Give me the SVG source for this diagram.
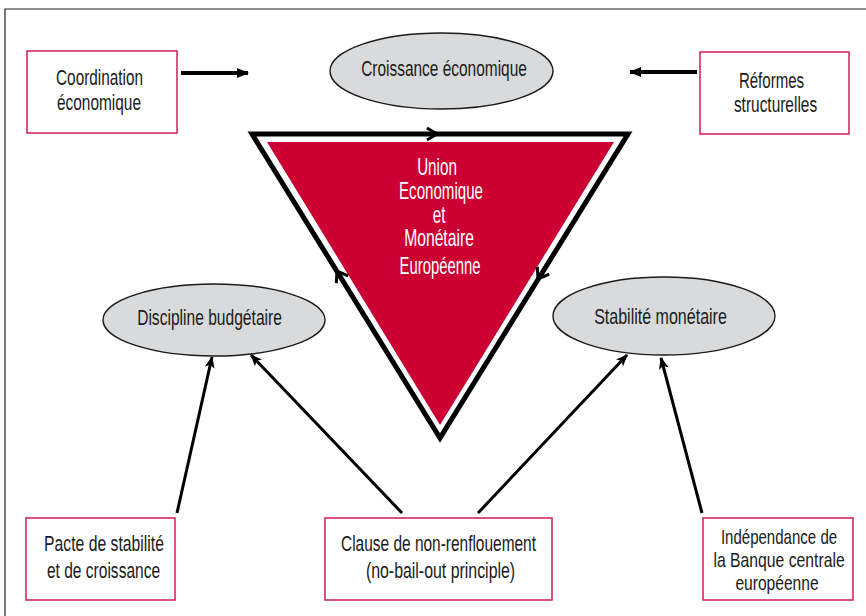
<svg xmlns="http://www.w3.org/2000/svg" width="866" height="616" viewBox="0 0 866 616">
<style>
text{font-family:"Liberation Sans",Arial,sans-serif;font-size:22px;fill:#1a1a1a;text-anchor:middle}
.box{fill:#fff;stroke:#d42a5b;stroke-width:1.6}
.ell{fill:#d9dadc;stroke:#1a1a1a;stroke-width:1.4}
.conn{stroke:#000;stroke-width:3;fill:none;marker-end:url(#ah)}
.thick{stroke:#000;stroke-width:4;fill:none;marker-end:url(#ah2)}
.chev{stroke:#000;stroke-width:3;fill:none}
.w{fill:#fff;font-size:23px}
.s{font-size:20px}
</style>
<defs>
<marker id="ah" markerUnits="userSpaceOnUse" viewBox="0 0 12 10" refX="11" refY="5" markerWidth="12" markerHeight="10" orient="auto">
<path d="M0,0 L12,5 L0,10 L3,5 z" fill="#000"/>
</marker>
<marker id="ah2" markerUnits="userSpaceOnUse" viewBox="0 0 12 10" refX="11" refY="5" markerWidth="12" markerHeight="10" orient="auto">
<path d="M0,0 L12,5 L0,10 z" fill="#000"/>
</marker>
</defs>
<g id="frame"><path d="M5,616 V9 H866" fill="none" stroke="#222" stroke-width="1.2"/></g>
<g id="uem">
<polygon points="252,134 628,134 440,438" fill="#fff" stroke="#000" stroke-width="5" stroke-linejoin="miter"/>
<polygon points="267,142 614,142 440,425" fill="#cc0033"/>
<path class="chev" d="M427,128 L437,134 L427,140"/>
<path class="chev" d="M348.2,275.8 L337,271 L336.3,283.2"/>
<path class="chev" d="M549.2,274.2 L538,279 L537.3,266.8"/>
<text class="w" transform="translate(437,0) scale(0.75,1)" x="0" y="175" textLength="53" lengthAdjust="spacingAndGlyphs">Union</text>
<text class="w" transform="translate(441,0) scale(0.75,1)" x="0" y="199" textLength="112" lengthAdjust="spacingAndGlyphs">Economique</text>
<text class="w" transform="translate(439,0) scale(0.75,1)" x="0" y="223" textLength="17" lengthAdjust="spacingAndGlyphs">et</text>
<text class="w" transform="translate(439,0) scale(0.75,1)" x="0" y="246" textLength="93" lengthAdjust="spacingAndGlyphs">Monétaire</text>
<text class="w" transform="translate(440,0) scale(0.75,1)" x="0" y="274" textLength="108" lengthAdjust="spacingAndGlyphs">Européenne</text>
</g>
<g id="croissance"><ellipse class="ell" cx="441.5" cy="71" rx="111.5" ry="38"/><text transform="translate(444,0) scale(0.75,1)" x="0" y="76" textLength="221" lengthAdjust="spacingAndGlyphs">Croissance économique</text></g>
<g id="discipline"><ellipse class="ell" cx="214" cy="320" rx="111" ry="36"/><text transform="translate(209.5,0) scale(0.75,1)" x="0" y="325" textLength="193" lengthAdjust="spacingAndGlyphs">Discipline budgétaire</text></g>
<g id="stabilite"><ellipse class="ell" cx="664" cy="316" rx="111" ry="39"/><text transform="translate(660.5,0) scale(0.75,1)" x="0" y="324" textLength="177" lengthAdjust="spacingAndGlyphs">Stabilité monétaire</text></g>
<g id="coordination"><rect class="box" x="27" y="51" width="150" height="82"/><text transform="translate(99.5,0) scale(0.75,1)" x="0" y="85" textLength="116" lengthAdjust="spacingAndGlyphs">Coordination</text><text transform="translate(99,0) scale(0.75,1)" x="0" y="110" textLength="112" lengthAdjust="spacingAndGlyphs">économique</text></g>
<g id="reformes"><rect class="box" x="700" y="52" width="149" height="82"/><text transform="translate(771.5,0) scale(0.75,1)" x="0" y="88" textLength="87" lengthAdjust="spacingAndGlyphs">Réformes</text><text transform="translate(775.5,0) scale(0.75,1)" x="0" y="112" textLength="111" lengthAdjust="spacingAndGlyphs">structurelles</text></g>
<g id="pacte"><rect class="box" x="26" y="518" width="149" height="82"/><text transform="translate(104,0) scale(0.75,1)" x="0" y="551" textLength="160" lengthAdjust="spacingAndGlyphs">Pacte de stabilité</text><text transform="translate(103.5,0) scale(0.75,1)" x="0" y="578" textLength="151" lengthAdjust="spacingAndGlyphs">et de croissance</text></g>
<g id="clause"><rect class="box" x="325" y="518" width="227" height="82"/><text transform="translate(438.5,0) scale(0.75,1)" x="0" y="551" textLength="260" lengthAdjust="spacingAndGlyphs">Clause de non-renflouement</text><text transform="translate(440.5,0) scale(0.75,1)" x="0" y="578" textLength="199" lengthAdjust="spacingAndGlyphs">(no-bail-out principle)</text></g>
<g id="independance"><rect class="box" x="703" y="518" width="150" height="82"/><text class="s" transform="translate(779,0) scale(0.75,1)" x="0" y="544" textLength="155" lengthAdjust="spacingAndGlyphs">Indépendance de</text><text class="s" transform="translate(779,0) scale(0.75,1)" x="0" y="567" textLength="175" lengthAdjust="spacingAndGlyphs">la Banque centrale</text><text class="s" transform="translate(777,0) scale(0.75,1)" x="0" y="590" textLength="111" lengthAdjust="spacingAndGlyphs">européenne</text></g>
<g id="connectors">
<line class="thick" x1="181" y1="73" x2="248" y2="73"/>
<line class="thick" x1="697" y1="72" x2="630" y2="72"/>
<line class="conn" x1="177" y1="513" x2="212" y2="357"/>
<line class="conn" x1="402" y1="513" x2="251" y2="355"/>
<line class="conn" x1="478" y1="513" x2="627" y2="355"/>
<line class="conn" x1="702" y1="513" x2="661" y2="358"/>
</g>
</svg>
